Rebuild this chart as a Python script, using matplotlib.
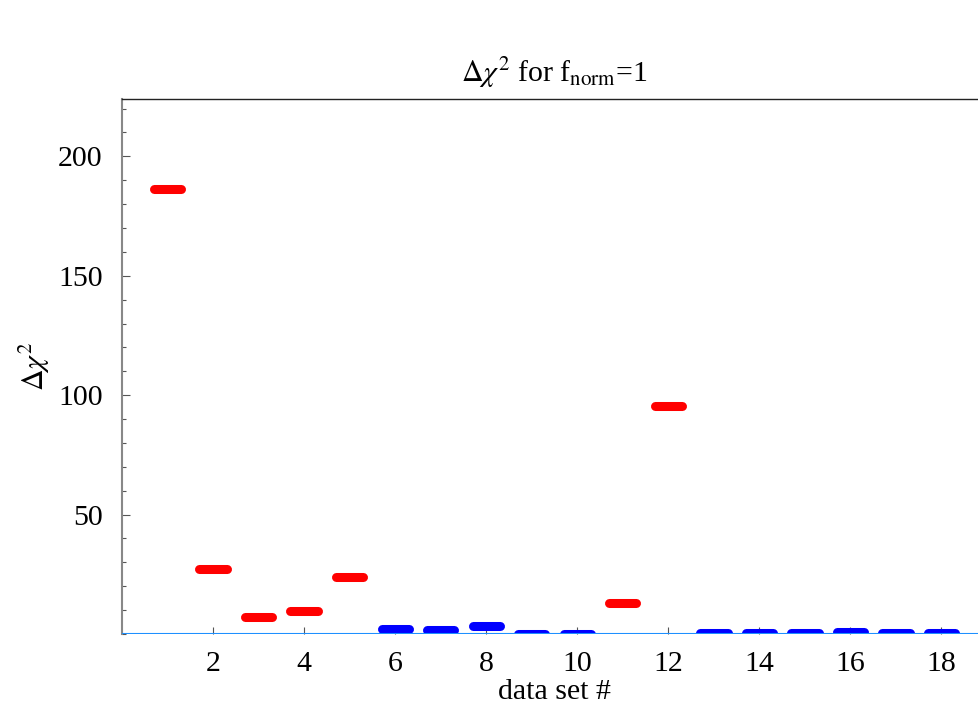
import matplotlib
matplotlib.use("Agg")
import matplotlib.pyplot as plt
from matplotlib.ticker import MultipleLocator
import numpy as np

plt.rcParams['font.family'] = ['Liberation Serif', 'DejaVu Serif']
plt.rcParams['mathtext.fontset'] = 'stix'

# delta chi^2 per data set, with f_norm fixed to 1
data_set = np.arange(1, 19)
dchi2 = [186.3, 27.2, 7.0, 9.8, 23.7, 2.1, 1.7, 3.5, 0.1,
         0.1, 12.8, 95.4, 0.3, 0.5, 0.5, 0.7, 0.3, 0.3]
flagged = [1, 2, 3, 4, 5, 11, 12]   # drawn in red

fig = plt.figure(figsize=(9.79, 7.04), dpi=100)
ax = fig.add_axes([122/979, 1 - 634/704, (987 - 122)/979, (634 - 99)/704])

half = 0.3
for n, v in zip(data_set, dchi2):
    col = 'red' if n in flagged else 'blue'
    ax.plot([n - half, n + half], [v, v], color=col, lw=6.5,
            solid_capstyle='round', zorder=2)

ax.axhline(0, color='#1e90ff', lw=1.5, zorder=3)

ax.set_xlim(0, 19)
ax.set_ylim(0, 224)

ax.spines['right'].set_visible(False)
ax.spines['bottom'].set_visible(False)
ax.spines['top'].set_color('#222222')
ax.spines['top'].set_linewidth(1.0)
ax.spines['left'].set_color('#888888')
ax.spines['left'].set_linewidth(1.5)

ax.set_xticks(np.arange(2, 19, 2))
ax.set_yticks([50, 100, 150, 200])
ax.yaxis.set_minor_locator(MultipleLocator(10))
ax.tick_params(axis='both', which='both', direction='in', labelsize=21.5,
               color='#555555', width=0.8)
ax.tick_params(axis='y', which='major', length=6, pad=14, right=False)
ax.tick_params(axis='y', which='minor', length=3, right=False)
ax.tick_params(axis='x', which='major', length=5, pad=12, top=False)

ax.set_title(r'$\Delta\chi^2$ for f$_{\mathrm{norm}}$=1', fontsize=21.5, pad=12)
ax.set_xlabel('data set #', fontsize=21.5, labelpad=2)
ax.set_ylabel(r'$\Delta\chi^2$', fontsize=21.5, labelpad=4)

fig.savefig("out.png", dpi=100)
